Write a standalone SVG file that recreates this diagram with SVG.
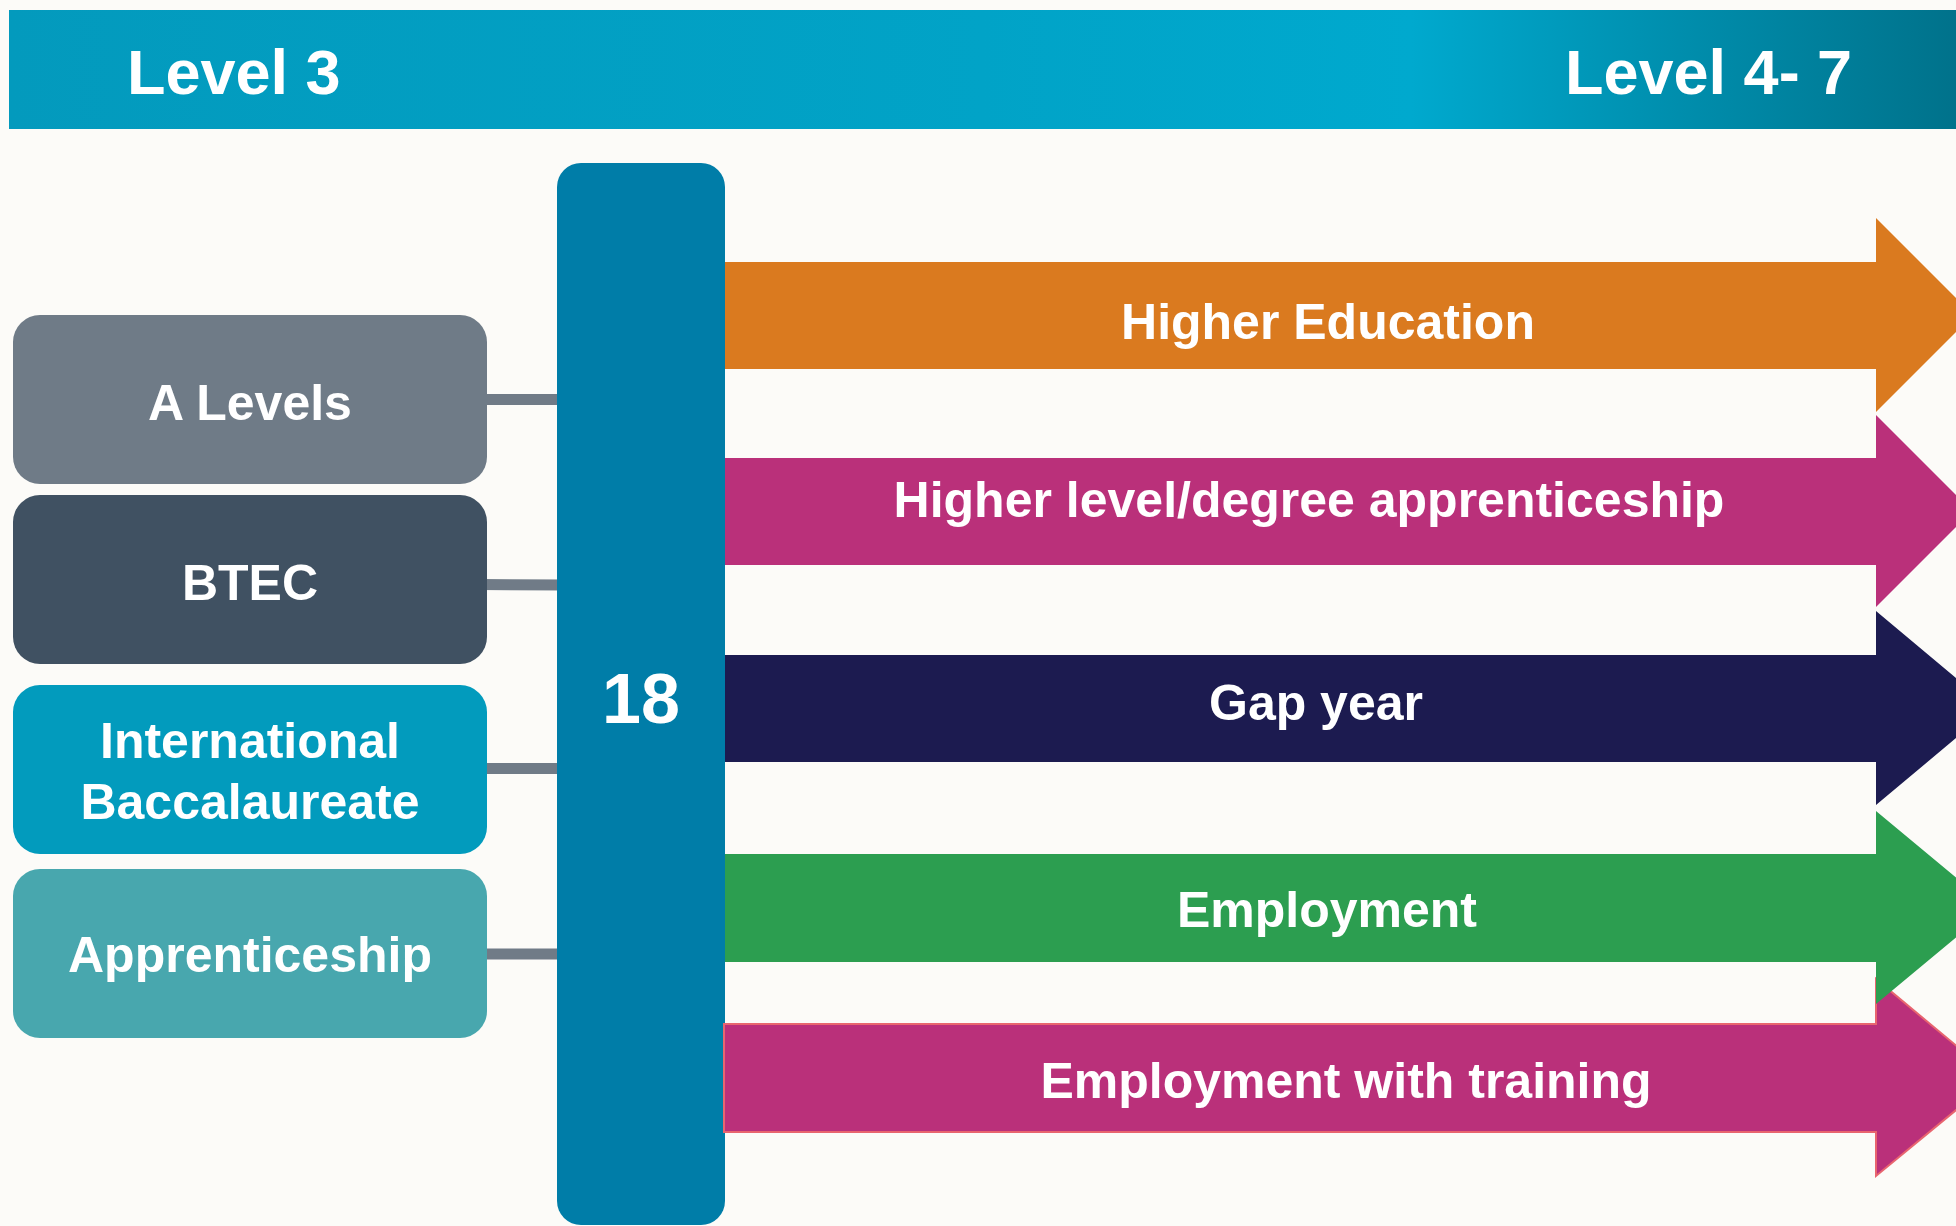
<svg xmlns="http://www.w3.org/2000/svg" width="1956" height="1226" viewBox="0 0 1956 1226">
<defs>
<linearGradient id="hdr" x1="0" y1="0" x2="1" y2="0">
<stop offset="0" stop-color="#039abd"/>
<stop offset="0.5" stop-color="#01a3c7"/>
<stop offset="0.72" stop-color="#00a9ce"/>
<stop offset="1" stop-color="#00728b"/>
</linearGradient>
</defs>
<style>
text{font-family:"Liberation Sans",Arial,sans-serif;font-weight:bold;fill:#ffffff;text-anchor:middle}
.hd{font-size:63px;text-anchor:start}
.bx{font-size:50px}
.ar{font-size:50px}
.conn line{stroke:#707b87;stroke-width:11}
</style>
<rect x="0" y="0" width="1956" height="1226" fill="#fcfbf8"/>
<g id="header">
<rect x="9" y="10" width="1947" height="119" fill="url(#hdr)"/>
<text class="hd" x="127" y="94">Level 3</text>
<text class="hd" x="1565" y="94">Level 4- 7</text>
</g>
<g class="conn" id="connectors">
<line x1="480" y1="399.5" x2="565" y2="399.5"/>
<line x1="480" y1="584.5" x2="565" y2="585"/>
<line x1="480" y1="768.5" x2="565" y2="768.5"/>
<line x1="480" y1="954" x2="565" y2="954"/>
</g>
<g id="node-alevels">
<rect x="13" y="315" width="474" height="169" rx="27" fill="#6f7b87"/>
<text class="bx" x="250" y="420">A Levels</text>
</g>
<g id="node-btec">
<rect x="13" y="495" width="474" height="169" rx="27" fill="#405162"/>
<text class="bx" x="250" y="600">BTEC</text>
</g>
<g id="node-ib">
<rect x="13" y="685" width="474" height="169" rx="27" fill="#029bbd"/>
<text class="bx" x="250" y="758">International</text>
<text class="bx" x="250" y="819">Baccalaureate</text>
</g>
<g id="node-apprenticeship">
<rect x="13" y="869" width="474" height="169" rx="27" fill="#48a7ae"/>
<text class="bx" x="250" y="972">Apprenticeship</text>
</g>
<g id="node-18">
<rect x="557" y="163" width="168" height="1062" rx="24" fill="#007da8"/>
<text x="641" y="723" style="font-size:70px">18</text>
</g>
<g id="arrow-training">
<path d="M724 1024 H1876 V979 L1995 1078 L1876 1176 V1132 H724 Z" fill="#ba307a" stroke="#e8656f" stroke-width="2"/>
<text class="ar" x="1346" y="1098">Employment with training</text>
</g>
<g id="arrow-employment">
<path d="M725 854 H1876 V811 L1992 907.5 L1876 1004 V962 H725 Z" fill="#2c9e50"/>
<text class="ar" x="1327" y="927">Employment</text>
</g>
<g id="arrow-gap">
<path d="M725 655 H1876 V611 L1992 708 L1876 805 V762 H725 Z" fill="#1c1b50"/>
<text class="ar" x="1316" y="720">Gap year</text>
</g>
<g id="arrow-apprenticeship">
<path d="M725 458 H1876 V415 L1972 511 L1876 607 V565 H725 Z" fill="#ba307a"/>
<text class="ar" x="1309" y="517">Higher level/degree apprenticeship</text>
</g>
<g id="arrow-he">
<path d="M725 262 H1876 V218 L1973 315 L1876 412 V369 H725 Z" fill="#da7a1f"/>
<text class="ar" x="1328" y="339">Higher Education</text>
</g>
</svg>
